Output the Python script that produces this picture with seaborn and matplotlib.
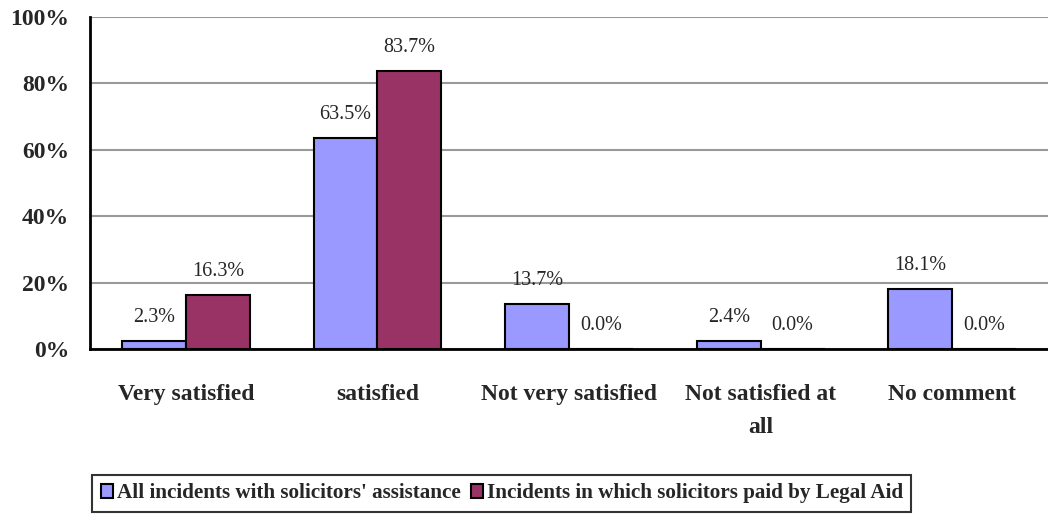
import matplotlib
matplotlib.use("Agg")
import matplotlib.pyplot as plt
import seaborn as sns
import pandas as pd
from matplotlib.ticker import FixedLocator

# chart data
categories = ["Very satisfied", "satisfied", "Not very satisfied",
              "Not satisfied at\nall", "No comment"]
series_names = ["All incidents with solicitors' assistance",
                "Incidents in which solicitors paid by Legal Aid"]
all_incidents = [2.3, 63.5, 13.7, 2.4, 18.1]
legal_aid = [16.3, 83.7, 0.0, 0.0, 0.0]
y_ticks = [0, 20, 40, 60, 80, 100]

df = pd.DataFrame({
    "category": categories * 2,
    "series": [series_names[0]] * 5 + [series_names[1]] * 5,
    "value": all_incidents + legal_aid,
})

sns.set_style("white")
plt.rcParams['font.family'] = ['Liberation Serif', 'DejaVu Serif']

fig = plt.figure(figsize=(10.48, 5.14), dpi=100)
ax = fig.add_axes([0.086, 0.321, 0.914, 0.646])

sns.barplot(data=df, x="category", y="value", hue="series",
            palette=["#9999FF", "#993366"], saturation=1, width=0.667,
            edgecolor="black", linewidth=1.5, ax=ax, legend=True)

for cont in ax.containers:
    ax.bar_label(cont, fmt="%.1f%%", padding=10, fontsize=14.5)

ax.set_ylim(0, 100)
ax.set_xlim(-0.5, 4.5)
ax.set_yticks(y_ticks)
ax.set_yticklabels([f"{t}%" for t in y_ticks], fontsize=17, fontweight="bold")
ax.set_xticks(range(len(categories)))
ax.set_xticklabels(categories, fontsize=17, fontweight="bold", linespacing=1.75)
ax.tick_params(axis="x", which="major", length=0, pad=25)
ax.xaxis.set_minor_locator(FixedLocator([0.5, 1.5, 2.5, 3.5]))
ax.tick_params(axis="x", which="minor", direction="in", length=6, width=1.5, color="black")
ax.tick_params(axis="y", which="major", direction="out", length=5, width=1.5, color="black", pad=10)
ax.yaxis.grid(True, color="#999999", linewidth=1.5)
ax.set_axisbelow(True)
ax.set_xlabel("")
ax.set_ylabel("")

for side in ["top", "right"]:
    ax.spines[side].set_visible(False)
for side in ["left", "bottom"]:
    ax.spines[side].set_color("black")
    ax.spines[side].set_linewidth(2)

handles, labels = ax.get_legend_handles_labels()
ax.get_legend().remove()
leg = fig.legend(handles, labels, loc="lower left", bbox_to_anchor=(0.088, 0.004),
                 ncol=2, frameon=True, fancybox=False, edgecolor="black",
                 prop={"weight": "bold", "size": 15.2}, handlelength=0.6,
                 handleheight=0.6, handletextpad=0.15, columnspacing=0.5,
                 borderpad=0.4, borderaxespad=0)
leg.get_frame().set_linewidth(1.5)

fig.savefig("out.png", dpi=100)
